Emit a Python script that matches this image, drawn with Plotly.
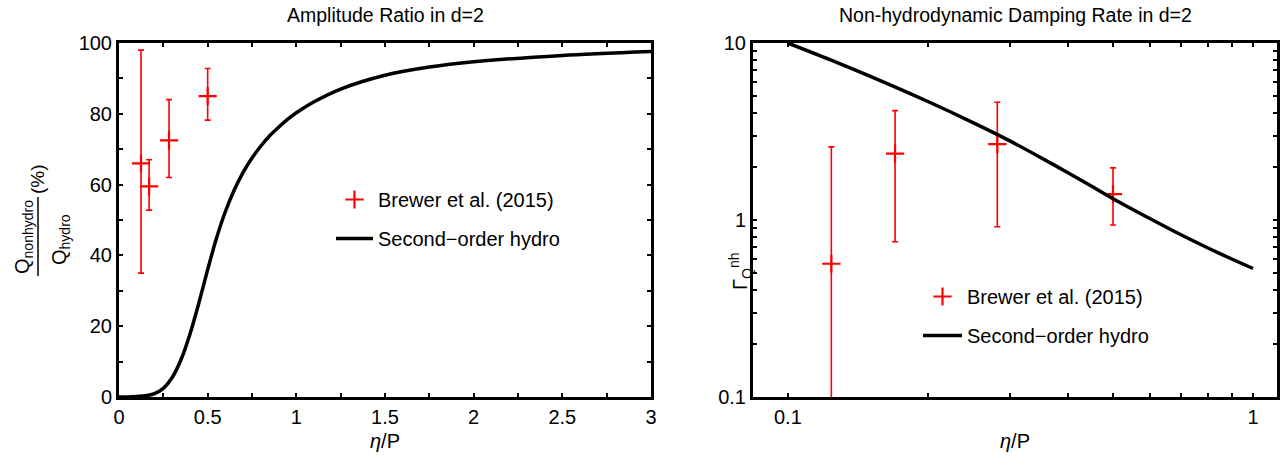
import plotly.graph_objects as go

# ---------------- data ----------------
eta_p = [0.124, 0.17, 0.282, 0.5]

# Left panel: amplitude ratio (%)
ratio_val = [66.0, 59.5, 72.5, 85.0]
ratio_hi = [98.0, 67.0, 84.0, 92.8]
ratio_lo = [35.0, 52.8, 62.0, 78.2]

hydro_x = [0, 0.05, 0.1, 0.15, 0.2, 0.25, 0.3, 0.35, 0.4, 0.45, 0.5, 0.55, 0.6, 0.65,
           0.7, 0.75, 0.8, 0.85, 0.9, 0.95, 1.0, 1.1, 1.25, 1.5, 1.75, 2.0, 2.5, 3.0]
hydro_ratio = [0, 0.03, 0.16, 0.35, 0.95, 2.45, 5.5, 10.6, 17.75, 26.5, 36, 44.9, 52.4, 58.5,
               63.45, 67.5, 70.9, 73.8, 76.2, 78.4, 80.3, 83.4, 87.0, 90.9, 93.2, 94.7, 96.5, 97.6]

# Right panel: non-hydrodynamic damping rate
gamma_val = [0.566, 2.37, 2.68, 1.40]
gamma_hi = [2.59, 4.15, 4.63, 1.97]
gamma_lo = [0.05, 0.753, 0.916, 0.937]

damp_x = [0.1, 0.125, 0.15, 0.2, 0.25, 0.3, 0.35, 0.4, 0.45, 0.5, 0.6, 0.7, 0.8, 0.9, 1.0]
damp_y = [10, 7.93, 6.5, 4.67, 3.55, 2.8, 2.25, 1.85, 1.55, 1.32, 1.02, 0.825, 0.695, 0.602, 0.532]

left_xticks = [0, 0.25, 0.5, 0.75, 1, 1.25, 1.5, 1.75, 2, 2.25, 2.5, 2.75, 3]
left_xlabels = ["0", "", "0.5", "", "1", "", "1.5", "", "2", "", "2.5", "", "3"]
left_yticks = list(range(0, 101, 10))
left_ylabels = [str(v) if v % 20 == 0 else "" for v in left_yticks]

right_xticks = [0.1, 0.2, 0.3, 0.4, 0.5, 0.6, 0.7, 0.8, 0.9, 1.0]
right_xlabels = ["0.1", "", "", "", "", "", "", "", "", "1"]
right_yticks = [0.1, 0.2, 0.3, 0.4, 0.5, 0.6, 0.7, 0.8, 0.9,
                1, 2, 3, 4, 5, 6, 7, 8, 9, 10]
right_ylabels = ["0.1"] + [""] * 8 + ["1"] + [""] * 8 + ["10"]

legend_names = ["Brewer et al. (2015)", "Second\u2212order hydro"]

# ---------------- figure ----------------
W, H = 1286, 456
FONT = "Liberation Sans, Arial, Helvetica, sans-serif"
RED = "#ff0000"
TICK_SIZE = 20
TEXT_SIZE = 20


def px(x):
    return x / W


def py(y):
    return 1 - y / H


fig = go.Figure()

# left panel
fig.add_trace(go.Scatter(
    x=eta_p, y=ratio_val, mode="markers", name=legend_names[0],
    marker=dict(symbol="cross-thin", size=13, color=RED, line=dict(color=RED, width=2.2)),
    error_y=dict(type="data", symmetric=False,
                 array=[h - v for h, v in zip(ratio_hi, ratio_val)],
                 arrayminus=[v - l for v, l in zip(ratio_val, ratio_lo)],
                 color=RED, thickness=1.6, width=3),
    xaxis="x", yaxis="y", legend="legend", legendgroup="a"))
fig.add_trace(go.Scatter(
    x=hydro_x, y=hydro_ratio, mode="lines", name=legend_names[1],
    line=dict(color="black", width=3.5, shape="spline", smoothing=0.8),
    xaxis="x", yaxis="y", legend="legend", legendgroup="b"))

# right panel
fig.add_trace(go.Scatter(
    x=eta_p, y=gamma_val, mode="markers", name=legend_names[0],
    marker=dict(symbol="cross-thin", size=13, color=RED, line=dict(color=RED, width=2.2)),
    error_y=dict(type="data", symmetric=False,
                 array=[h - v for h, v in zip(gamma_hi, gamma_val)],
                 arrayminus=[v - l for v, l in zip(gamma_val, gamma_lo)],
                 color=RED, thickness=1.6, width=3),
    xaxis="x2", yaxis="y2", legend="legend2", legendgroup="c"))
fig.add_trace(go.Scatter(
    x=damp_x, y=damp_y, mode="lines", name=legend_names[1],
    line=dict(color="black", width=3.5, shape="spline", smoothing=0.8),
    xaxis="x2", yaxis="y2", legend="legend2", legendgroup="d"))

axis_common = dict(showline=True, linecolor="black", linewidth=3, mirror="allticks",
                   ticks="inside", ticklen=4, tickwidth=2, tickcolor="black",
                   showgrid=False, zeroline=False, automargin=False,
                   tickfont=dict(family=FONT, size=TICK_SIZE, color="black"))

ydom = [py(397), py(43)]
fig.update_layout(
    template="none",
    width=W, height=H, autosize=False,
    margin=dict(l=0, r=0, t=0, b=0, pad=0),
    paper_bgcolor="white", plot_bgcolor="white",
    font=dict(family=FONT, color="black"),
    xaxis=dict(domain=[px(119), px(651)], range=[0, 3], tickmode="array",
               tickvals=left_xticks, ticktext=left_xlabels, anchor="y", **axis_common),
    yaxis=dict(domain=ydom, range=[0, 100], tickmode="array",
               tickvals=left_yticks, ticktext=left_ylabels, anchor="x", **axis_common),
    xaxis2=dict(domain=[px(753), px(1277)], type="log", range=[-1.075, 0.0516],
                tickmode="array", tickvals=right_xticks, ticktext=right_xlabels,
                anchor="y2", **axis_common),
    yaxis2=dict(domain=ydom, type="log", range=[-1, 1], tickmode="array",
                tickvals=right_yticks, ticktext=right_ylabels, anchor="x2", **axis_common),
    legend=dict(x=px(331), y=py(180), xanchor="left", yanchor="top",
                bgcolor="rgba(0,0,0,0)", borderwidth=0, tracegroupgap=10, itemwidth=37,
                font=dict(family=FONT, size=TEXT_SIZE, color="black")),
    legend2=dict(x=px(918), y=py(277), xanchor="left", yanchor="top",
                 bgcolor="rgba(0,0,0,0)", borderwidth=0, tracegroupgap=10, itemwidth=39,
                 font=dict(family=FONT, size=TEXT_SIZE, color="black")),
    showlegend=True,
)


def note(text, x, y, size=TEXT_SIZE, angle=0):
    return dict(text=text, x=px(x), y=py(y), xref="paper", yref="paper",
                xanchor="center", yanchor="middle", showarrow=False, textangle=angle,
                font=dict(size=size, family=FONT, color="black"))


ann = [
    note("Amplitude Ratio in d=2", 385, 15, 19.5),
    note("Non-hydrodynamic Damping Rate in d=2", 1015, 15, 19.5),
    note("<i>\u03b7</i>/P", 385, 441),
    note("<i>\u03b7</i>/P", 1015, 441),
    # left y-axis label: fraction Q_nonhydro / Q_hydro (%)
    note("Q<sub>nonhydro</sub>", 23, 237, 20, -90),
    note("Q<sub>hydro</sub>", 60, 240, 20, -90),
    note("(%)", 37, 179, 19, -90),
    # right y-axis label
    note("\u0393<sub>Q</sub><sup>nh</sup>", 740, 272, 20, -90),
]
fig.update_layout(annotations=ann)

fig.add_shape(type="line", xref="paper", yref="paper",
              x0=px(38), x1=px(38), y0=py(197), y1=py(276),
              line=dict(color="black", width=1.5))

fig.write_html("out.html")
